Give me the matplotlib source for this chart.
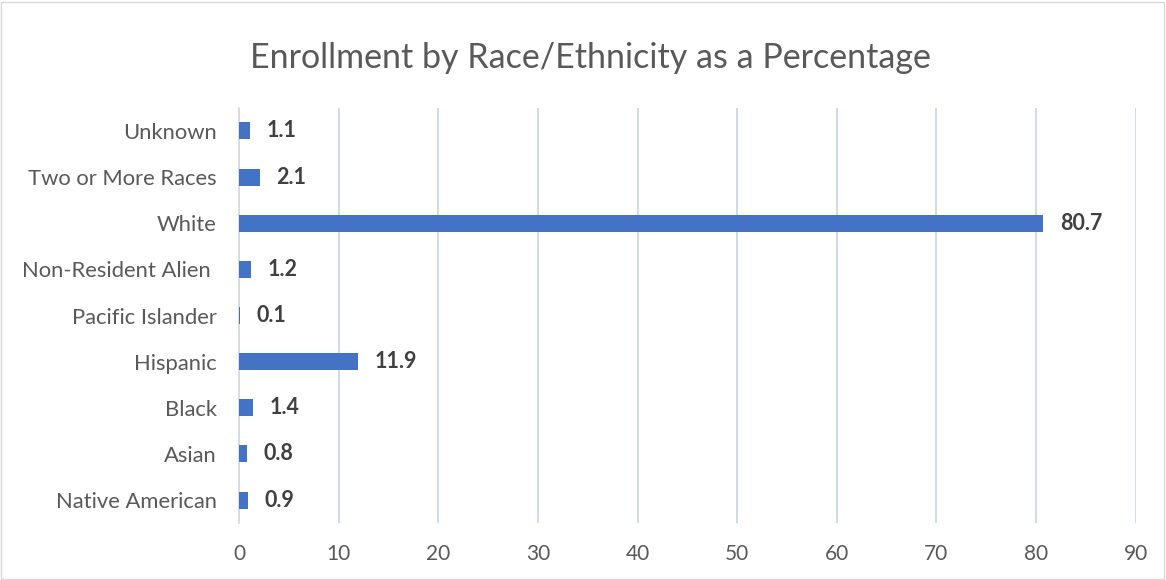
import matplotlib.pyplot as plt
from matplotlib.patches import Rectangle

# data
categories = ['Native American', 'Asian', 'Black', 'Hispanic', 'Pacific Islander',
              'Non-Resident Alien ', 'White', 'Two or More Races', 'Unknown']
values = [0.9, 0.8, 1.4, 11.9, 0.1, 1.2, 80.7, 2.1, 1.1]
xticks = [0, 10, 20, 30, 40, 50, 60, 70, 80, 90]

plt.rcParams['font.family'] = ['Lato', 'DejaVu Sans']

fig = plt.figure(figsize=(11.66, 5.8), dpi=100)
ax = fig.add_axes([0.205, 0.098, 0.769, 0.716])

ax.barh(range(len(categories)), values, height=0.37, color='#4472C4', zorder=3)

for i, v in enumerate(values):
    ax.annotate(f'{v:.1f}', xy=(v, i), xytext=(12, 0), textcoords='offset points',
                va='center', ha='left', fontsize=15.5, fontweight='bold', color='#404040')

ax.set_xlim(0, 90)
ax.set_ylim(-0.5, len(categories) - 0.5)
ax.set_yticks(range(len(categories)))
ax.set_yticklabels(categories)
ax.set_xticks(xticks)
ax.tick_params(axis='both', length=0, colors='#595959')
ax.tick_params(axis='x', pad=15, labelsize=15)
ax.tick_params(axis='y', pad=16, labelsize=15.8)

ax.grid(axis='x', color='#C5D3EC', linewidth=1.2, zorder=0)
for s in ['top', 'right', 'bottom']:
    ax.spines[s].set_visible(False)
ax.spines['left'].set_color('#D9D9D9')
ax.spines['left'].set_linewidth(1.2)

fig.text(0.506, 0.9, 'Enrollment by Race/Ethnicity as a Percentage', ha='center', va='center',
         fontsize=24.5, color='#595959')

fig.patches.append(Rectangle((0.001, 0.002), 0.997, 0.994, transform=fig.transFigure,
                             fill=False, edgecolor='#D9D9D9', linewidth=1))

fig.savefig('out.png', dpi=100)
